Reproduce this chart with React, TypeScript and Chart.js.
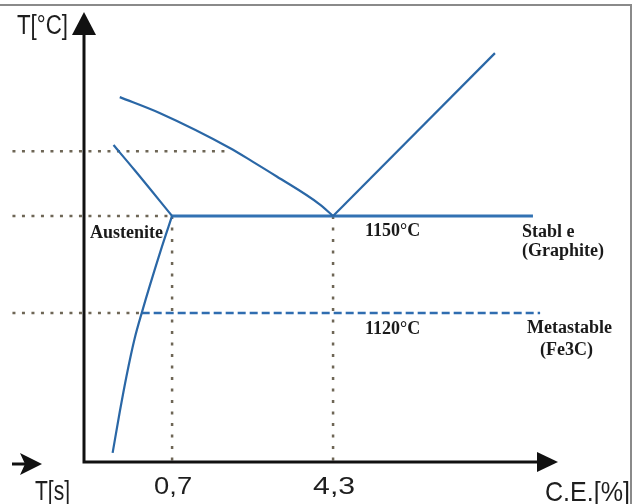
import React, { useEffect, useRef } from "react";
import { Chart, registerables } from "chart.js";

Chart.register(...registerables);

// ---- data ----
const xTicks = [0.7, 4.3];
const xTickLabels = ["0,7", "4,3"];
const yAxisTitle = "T[°C]";
const xAxisTitle = "C.E.[%]";
const timeAxisTitle = "T[s]";

const stableTemp = 1150;
const metastableTemp = 1120;
const upperGuideTemp = 1170;

const hypoLiquidusX = [-0.47, 0.42, 1.99, 2.5, 3.04, 4.0, 4.3];
const hypoLiquidusY = [1186.7, 1181.8, 1171.0, 1166.8, 1162.2, 1153.6, 1150];

const austeniteLiquidusX = [-0.61, -0.14, 0.7];
const austeniteLiquidusY = [1171.9, 1164.2, 1150];

const hyperLiquidusX = [4.3, 7.92];
const hyperLiquidusY = [1150, 1200.3];

const austeniteSolidusX = [0.7, 0.45, 0.02, -0.14, -0.32, -0.47, -0.63];
const austeniteSolidusY = [1150, 1139.5, 1120, 1112, 1100.5, 1089.5, 1076.8];

const stableLineX = [0.7, 8.77];
const metastableLineX = [0.02, 8.93];

const guideStartX = -2.87;
const guideTemps = [upperGuideTemp, stableTemp, metastableTemp];
const guideEndX = [1.99, 0.7, 0.02];

const xMin = -1.27;
const xMax = 9.33;
const yMin = 1074;
const yMax = 1213;

const labelTexts = ["Austenite", "1150°C", "Stabl e", "(Graphite)", "1120°C", "Metastable", "(Fe3C)"];

// ---- styling / layout ----
const BLUE = "#2a67a6";
const GUIDE = "#6e6656";
const labelPos: [number, number][] = [
  [90, 238],
  [365, 236],
  [522, 237],
  [522, 256],
  [365, 334],
  [527, 333],
  [540, 355],
];

const zip = (xs: number[], ys: number[]) => xs.map((x, i) => ({ x, y: ys[i] }));

function fitText(
  ctx: CanvasRenderingContext2D,
  text: string,
  x: number,
  y: number,
  font: string,
  width: number,
  center = false
) {
  ctx.font = font;
  const w = ctx.measureText(text).width;
  const s = width / w;
  ctx.save();
  ctx.translate(x, y);
  ctx.scale(s, 1);
  ctx.textAlign = "left";
  ctx.textBaseline = "alphabetic";
  ctx.fillText(text, center ? -w / 2 : 0, 0);
  ctx.restore();
}

const decorPlugin = {
  id: "decor",
  afterDraw(chart: any) {
    const ctx: CanvasRenderingContext2D = chart.ctx;
    const xs = chart.scales.x;
    const ys = chart.scales.y;
    const ax = xs.getPixelForValue(xMin);
    const ay = ys.getPixelForValue(yMin);
    const topY = ys.getPixelForValue(yMax);
    const rightX = xs.getPixelForValue(xMax);

    ctx.save();
    // frame
    ctx.strokeStyle = "#8a8a8a";
    ctx.lineWidth = 2;
    ctx.beginPath();
    ctx.moveTo(0, 5);
    ctx.lineTo(631, 5);
    ctx.lineTo(631, 504);
    ctx.stroke();

    // axes
    ctx.strokeStyle = "#111";
    ctx.fillStyle = "#111";
    ctx.lineWidth = 3;
    ctx.lineCap = "butt";
    ctx.beginPath();
    ctx.moveTo(ax, ay + 1.5);
    ctx.lineTo(ax, topY + 20);
    ctx.moveTo(ax - 1.5, ay);
    ctx.lineTo(rightX - 18, ay);
    ctx.stroke();
    // y arrow
    ctx.beginPath();
    ctx.moveTo(ax, topY);
    ctx.lineTo(ax - 12, topY + 23);
    ctx.lineTo(ax + 12, topY + 23);
    ctx.closePath();
    ctx.fill();
    // x arrow
    ctx.beginPath();
    ctx.moveTo(rightX, ay);
    ctx.lineTo(rightX - 21, ay - 10);
    ctx.lineTo(rightX - 21, ay + 10);
    ctx.closePath();
    ctx.fill();
    // small time arrow
    ctx.beginPath();
    ctx.moveTo(12, ay + 2);
    ctx.lineTo(26, ay + 2);
    ctx.stroke();
    ctx.beginPath();
    ctx.moveTo(42, ay + 2);
    ctx.lineTo(20, ay - 9);
    ctx.lineTo(25, ay + 2);
    ctx.lineTo(20, ay + 13);
    ctx.closePath();
    ctx.fill();

    // sans labels
    ctx.fillStyle = "#1e1e1e";
    fitText(ctx, yAxisTitle, 17, 34, "27px 'Liberation Sans'", 51);
    fitText(ctx, timeAxisTitle, 35, 500, "27px 'Liberation Sans'", 35);
    fitText(ctx, xAxisTitle, 545, 501, "28px 'Liberation Sans'", 85);
    const tickW = [38, 42];
    xTicks.forEach((v, i) => {
      fitText(ctx, xTickLabels[i], xs.getPixelForValue(v) + 1, 494, "23px 'Liberation Sans'", tickW[i], true);
    });

    // serif annotations
    ctx.fillStyle = "#1a1a1a";
    ctx.font = "bold 18px 'Liberation Serif'";
    ctx.textAlign = "left";
    ctx.textBaseline = "alphabetic";
    labelTexts.forEach((t, i) => {
      ctx.fillText(t, labelPos[i][0], labelPos[i][1]);
    });
    ctx.restore();
  },
};

export default function App() {
  const ref = useRef<HTMLCanvasElement | null>(null);

  useEffect(() => {
    if (!ref.current) return;
    const blue = (data: any[], extra: any = {}) => ({
      data,
      showLine: true,
      borderColor: BLUE,
      borderWidth: 2.2,
      pointRadius: 0,
      tension: 0,
      clip: false,
      ...extra,
    });
    const guide = (data: any[], dash: number[]) => ({
      data,
      showLine: true,
      borderColor: GUIDE,
      borderWidth: 2.5,
      borderDash: dash,
      pointRadius: 0,
      tension: 0,
      clip: false,
    });

    const datasets: any[] = [
      blue(zip(hypoLiquidusX, hypoLiquidusY), { cubicInterpolationMode: "monotone" }),
      blue(zip(austeniteLiquidusX, austeniteLiquidusY), { cubicInterpolationMode: "monotone" }),
      blue(zip(hyperLiquidusX, hyperLiquidusY)),
      blue(zip(austeniteSolidusX, austeniteSolidusY), { cubicInterpolationMode: "monotone" }),
      blue(zip(stableLineX, [stableTemp, stableTemp]), { borderWidth: 3, borderColor: "#3272b3" }),
      blue(zip(metastableLineX, [metastableTemp, metastableTemp]), { borderWidth: 2.5, borderDash: [8, 4], borderColor: "#2f6db0" }),
      ...guideTemps.map((t, i) => guide([{ x: guideStartX, y: t }, { x: guideEndX[i], y: t }], [3, 6.5])),
      ...xTicks.map((v) => guide([{ x: v, y: stableTemp }, { x: v, y: yMin }], [3, 8.5])),
    ];

    const chart = new Chart(ref.current, {
      type: "scatter",
      data: { datasets },
      options: {
        animation: false,
        responsive: false,
        maintainAspectRatio: false,
        layout: { padding: { left: 84, top: 12, right: 76, bottom: 42 } },
        plugins: { legend: { display: false }, tooltip: { enabled: false }, title: { display: false } },
        scales: {
          x: { type: "linear", min: xMin, max: xMax, display: false },
          y: { type: "linear", min: yMin, max: yMax, display: false },
        },
      },
      plugins: [decorPlugin],
    });
    return () => chart.destroy();
  }, []);

  return (
    <div style={{ position: "fixed", left: 0, top: 0, width: 634, height: 504, background: "#fff" }}>
      <canvas ref={ref} width={634} height={504} style={{ width: 634, height: 504, display: "block" }} />
    </div>
  );
}
